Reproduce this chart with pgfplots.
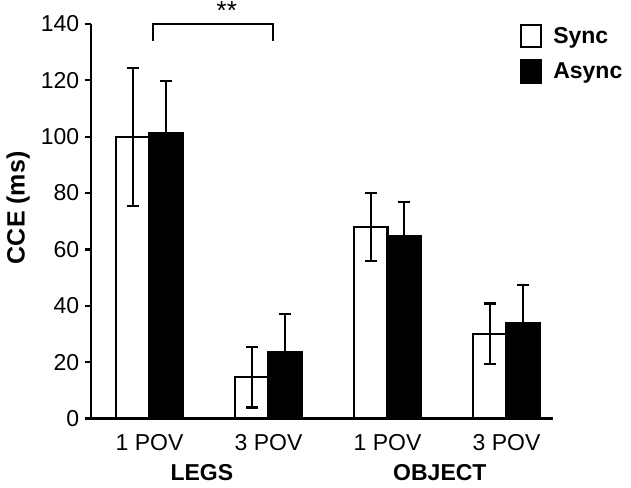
\documentclass[border=0pt]{standalone}
\usepackage{pgfplots}
\pgfplotsset{compat=1.18}
\usepackage{fontspec}
\setmainfont{Liberation Sans}
\begin{document}
\begin{tikzpicture}
\begin{axis}[
  at={(0,0)}, anchor=south west,
  scale only axis, width=462pt, height=394.5pt,
  ybar, bar width=0.283,
  xmin=-0.494, xmax=3.388,
  ymin=0, ymax=140,
  ytick={0,20,...,140},
  xtick={0,1,2,3},
  xticklabels={1 POV,3 POV,1 POV,3 POV},
  axis x line*=bottom, axis y line*=left,
  axis line style={line width=2.2pt},
  x axis line style={-}, y axis line style={-},
  tick align=outside, major tick length=6pt,
  ytick style={line width=2.2pt, black},
  xtick style={draw=none},
  /pgf/number format/assume math mode=true,
  tick label style={font=\fontsize{23}{27}\selectfont},
  xticklabel style={yshift=-6pt},
  yticklabel style={xshift=-2pt},
  every axis y label/.style={at={(axis description cs:-0.157,0.534)}, rotate=90, anchor=center},
  ylabel={\bfseries CCE (ms)},
  label style={font=\fontsize{25}{29}\selectfont\bfseries},
  clip=false,
  legend style={draw=none, fill=none, at={(rel axis cs:0.929,1.0)}, anchor=north west,
    font=\fontsize{23}{27}\selectfont\bfseries, row sep=11pt, inner sep=0pt,
    legend cell align=left, /tikz/every even column/.append style={column sep=0pt}},
  error bars/y dir=both, error bars/y explicit,
  error bars/error bar style={line width=2.2pt, black},
  error bars/error mark options={rotate=90, mark size=6pt, line width=2.2pt, black},
]
\addplot[bar shift=-0.1415, draw=black, fill=white, line width=2.2pt,
  legend image code/.code={\draw[draw=black, fill=white, line width=2.2pt] (0pt,-11pt) rectangle (20pt,11pt);}]
  coordinates {(0,100) +- (0,24.5) (1,14.6) +- (0,10.7) (2,67.9) +- (0,12) (3,30) +- (0,10.8)};
\addlegendentry{\hspace{9pt}Sync}
\addplot[bar shift=0.1415, draw=black, fill=black, line width=2.2pt,
  legend image code/.code={\draw[draw=black, fill=black, line width=2.2pt] (0pt,-11pt) rectangle (20pt,11pt);}]
  coordinates {(0,101.2) +- (0,18.7) (1,23.5) +- (0,13.5) (2,64.8) +- (0,12.1) (3,34) +- (0,13.4)};
\addlegendentry{\hspace{9pt}Async}
\draw[line width=2.2pt] (axis cs:0.032,134) -- (axis cs:0.032,140) -- (axis cs:1.04,140) -- (axis cs:1.04,134);
\node[font=\fontsize{26}{30}\selectfont] at (axis cs:0.65,140) [yshift=13pt] {**};
\node[font=\fontsize{23}{27}\selectfont\bfseries] at (axis cs:0.44,0) [yshift=-54.5pt] {LEGS};
\node[font=\fontsize{23}{27}\selectfont\bfseries] at (axis cs:2.44,0) [yshift=-54.5pt] {OBJECT};
\end{axis}
\pgfresetboundingbox
\path[use as bounding box] (-90.7pt,-68.5pt) rectangle (540.3pt,418.5pt);
\end{tikzpicture}
\end{document}
